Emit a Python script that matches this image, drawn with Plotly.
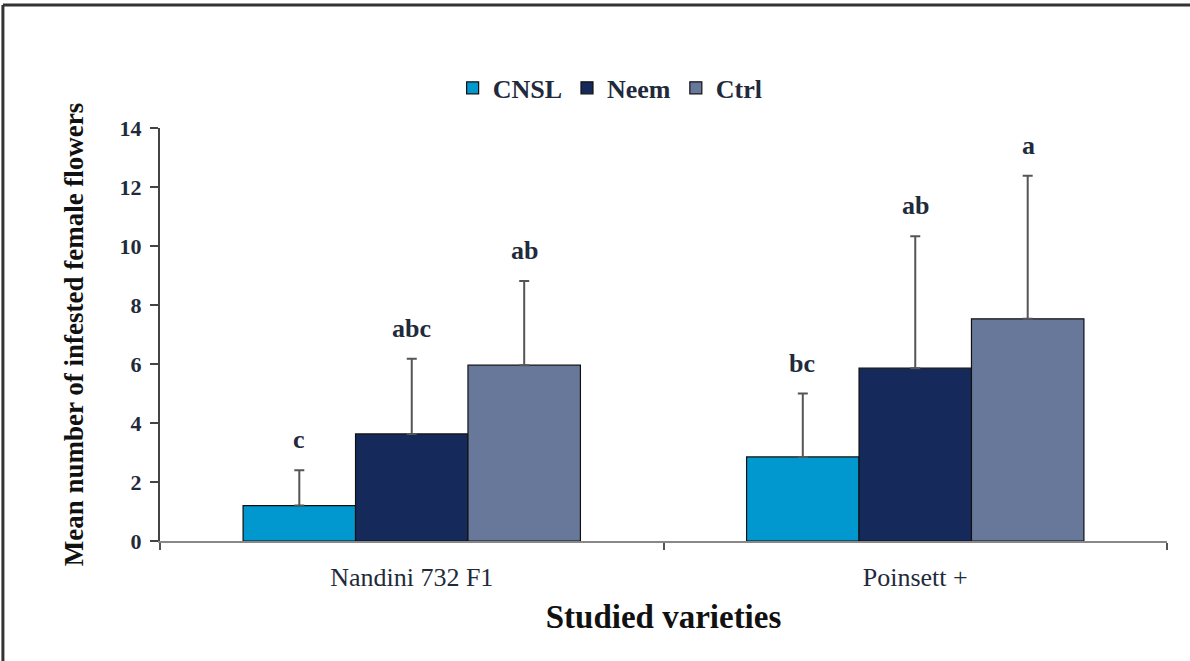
import plotly.graph_objects as go

varieties = ["Nandini 732 F1", "Poinsett +"]
treatments = ["CNSL", "Neem", "Ctrl"]
means = {
    "CNSL": [1.2, 2.85],
    "Neem": [3.63, 5.86],
    "Ctrl": [5.96, 7.53],
}
errors = {
    "CNSL": [1.2, 2.15],
    "Neem": [2.55, 4.47],
    "Ctrl": [2.85, 4.85],
}
letters = {
    "CNSL": ["c", "bc"],
    "Neem": ["abc", "ab"],
    "Ctrl": ["ab", "a"],
}
colors = {"CNSL": "#0098cf", "Neem": "#15295a", "Ctrl": "#68789a"}

FONT = "Liberation Serif"
TXT = "#1f2a3c"

fig = go.Figure()
for t in treatments:
    fig.add_trace(go.Bar(
        name=t, x=varieties, y=means[t],
        marker=dict(color=colors[t], line=dict(color="#111111", width=1.2)),
        error_y=dict(type="data", array=errors[t], arrayminus=[0] * len(varieties),
                     symmetric=False, color="#555555", thickness=2, width=5),
    ))

# letter annotations above error bars
bar_px = 113
for i, t in enumerate(treatments):
    for j, v in enumerate(varieties):
        fig.add_annotation(
            x=v, y=means[t][j] + errors[t][j], text=letters[t][j],
            showarrow=False, yanchor="bottom", yshift=14, xshift=(i - 1) * bar_px,
            font=dict(family=FONT, size=26, color=TXT, weight="bold"),
        )

# outer frame
fig.add_shape(type="line", xref="paper", yref="paper", x0=-0.156, x1=1.1, y0=1.298, y1=1.298,
              line=dict(color="#333333", width=3))
fig.add_shape(type="line", xref="paper", yref="paper", x0=-0.156, x1=-0.156, y0=-0.3, y1=1.298,
              line=dict(color="#333333", width=3))

fig.update_layout(
    width=1190, height=661,
    margin=dict(l=160, r=23, t=128, b=120),
    paper_bgcolor="white", plot_bgcolor="white",
    barmode="group", bargap=0.33, bargroupgap=0,
    font=dict(family=FONT, color=TXT),
    showlegend=True,
    legend=dict(orientation="h", x=0.447, xanchor="center", y=1.097, yanchor="middle",
                font=dict(family=FONT, size=26, color=TXT, weight="bold"), itemwidth=30,
                traceorder="normal"),
    xaxis=dict(
        showline=True, linecolor="#888888", linewidth=2,
        ticks="outside", tickson="boundaries", ticklen=7, tickcolor="#555555", tickwidth=2,
        tickfont=dict(family=FONT, size=26, color=TXT),
        ticklabelstandoff=12,
        title=dict(text="Studied varieties", font=dict(family=FONT, size=33, color="#111111", weight="bold"),
                   standoff=14),
        showgrid=False,
    ),
    yaxis=dict(
        range=[0, 14], dtick=2, showline=True, linecolor="#444444", linewidth=2,
        ticks="outside", ticklen=8, tickcolor="#444444", tickwidth=2,
        tickfont=dict(family=FONT, size=22, color=TXT, weight="bold"),
        ticklabelstandoff=4,
        title=dict(text="Mean number of infested female flowers",
                   font=dict(family=FONT, size=27, color="#111111", weight="bold"), standoff=28),
        showgrid=False, zeroline=False,
    ),
)

fig.write_html("out.html", config={"displayModeBar": False},
               post_script="document.body.style.margin='0';")
